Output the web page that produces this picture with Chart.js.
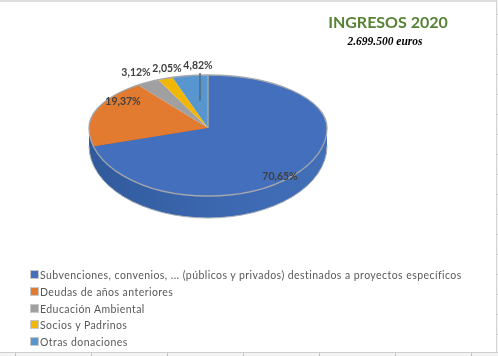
<!DOCTYPE html>
<html>
<head>
<meta charset="utf-8">
<script src="https://cdn.jsdelivr.net/npm/chart.js@4"></script>
<style>
  html, body { margin: 0; padding: 0; background: #fff; overflow: hidden; }
  #wrap { position: relative; width: 498px; height: 356px; overflow: hidden; }
  canvas { position: absolute; left: 0; top: 0; }
  #sheetTop { position: absolute; left: 0; top: 0; width: 498px; height: 2px; background: #dedede; }
  #sheetRight { position: absolute; left: 496px; top: 0; width: 2px; height: 356px;
    background: repeating-linear-gradient(#f4f4f4 0 14px, #c4c4c4 14px 15px, #f4f4f4 15px 20px); border-left: 1px solid #d4d4d4; box-sizing: border-box; }
  #sheetBottom { position: absolute; left: 0; top: 352px; width: 498px; height: 4px; border-top: 1px solid #cfcfcf; box-sizing: border-box;
    background: repeating-linear-gradient(90deg, #f4f4f4 0 15px, #c4c4c4 15px 16px, #f4f4f4 16px 76px); }
  #title { position: absolute; left: 288px; width: 200px; top: 12px; text-align: center;
    font: bold 16px Lato, sans-serif; color: #568235; }
  #sub { position: absolute; left: 285px; width: 200px; top: 35px; text-align: center;
    font: italic bold 11.5px "Liberation Serif", serif; color: #000; }
  #legend { position: absolute; left: 30px; top: 267px; font: 10.5px Lato, sans-serif; color: #595959; letter-spacing: 0.44px; }
  #legend div { height: 16.8px; line-height: 16.8px; white-space: nowrap; }
  #legend i { display: inline-block; width: 7px; height: 7px; margin-right: 1px; border: 1px solid #c8c8c8; }
</style>
</head>
<body>
<div id="wrap">
  <canvas id="c" width="498" height="356"></canvas>
  <div id="sheetTop"></div><div id="sheetRight"></div><div id="sheetBottom"></div>
  <div id="title">INGRESOS 2020</div>
  <div id="sub">2.699.500 euros</div>
  <div id="legend"></div>
</div>
<script>
const categories = [
  "Subvenciones, convenios, ... (públicos y privados) destinados a proyectos específicos",
  "Deudas de años anteriores",
  "Educación Ambiental",
  "Socios y Padrinos",
  "Otras donaciones"
];
const shares = [70.65, 19.37, 3.12, 2.05, 4.82];
const shareLabels = ["70,65%", "19,37%", "3,12%", "2,05%", "4,82%"];
const colors = ["#436FBC", "#E27A30", "#A0A0A0", "#F2B705", "#5796CF"];
const labelSpots = [[280, 177], [123, 102], [136, 73], [167, 69], [198, 66]];

// pie is tilted: back half squashed more than the front half, same apex
const backTilt = 53 / 119;
const frontTilt = 68 / 119;
const wallTilt = 72 / 119;
const depth = 18;

function squashed(ctx, x, y, tilt, fn) {
  ctx.save();
  ctx.translate(x, y);
  ctx.scale(1, tilt);
  ctx.translate(-x, -y);
  fn();
  ctx.restore();
}

const tiltedPie = {
  id: "tiltedPie",
  beforeDatasetsDraw(chart) {
    const ctx = chart.ctx;
    const arcs = chart.getDatasetMeta(0).data;
    const { x, y, outerRadius: r } = arcs[0];

    // side wall
    const grad = ctx.createLinearGradient(x - r, 0, x + r, 0);
    grad.addColorStop(0, "#315A9C");
    grad.addColorStop(0.5, "#3B67AF");
    grad.addColorStop(1, "#416FB8");
    ctx.beginPath();
    ctx.moveTo(x - r, y);
    ctx.lineTo(x - r, y + depth);
    ctx.ellipse(x, y + depth, r, r * wallTilt, 0, Math.PI, 0, true);
    ctx.lineTo(x + r, y);
    ctx.closePath();
    ctx.fillStyle = grad;
    ctx.fill();
    ctx.beginPath();
    ctx.ellipse(x, y + depth, r, r * wallTilt, 0, Math.PI, 0, true);
    ctx.strokeStyle = "#A9AEB6";
    ctx.lineWidth = 1;
    ctx.stroke();

    // top face, once per half
    [[0, y, backTilt], [y, chart.height - y, frontTilt]].forEach(([top, h, tilt]) => {
      ctx.save();
      ctx.beginPath();
      ctx.rect(0, top, chart.width, h);
      ctx.clip();
      squashed(ctx, x, y, tilt, () => arcs.forEach(a => a.draw(ctx)));
      ctx.restore();
    });

    // rim
    ctx.strokeStyle = "#A2A7AE";
    ctx.lineWidth = 1.3;
    ctx.beginPath();
    ctx.ellipse(x, y, r, r * backTilt, 0, Math.PI, 0);
    ctx.stroke();
    ctx.beginPath();
    ctx.ellipse(x, y, r, r * frontTilt, 0, 0, Math.PI);
    ctx.stroke();

    // seam at 12 o'clock
    ctx.beginPath();
    ctx.moveTo(x, y - r * backTilt);
    ctx.lineTo(x, y);
    ctx.lineWidth = 1.5;
    ctx.stroke();
    return false;
  },
  afterDraw(chart) {
    const ctx = chart.ctx;
    ctx.save();
    // leader line of the last label
    ctx.strokeStyle = "#56677A";
    ctx.lineWidth = 1.5;
    ctx.beginPath();
    ctx.moveTo(200, 73);
    ctx.lineTo(200, 101);
    ctx.stroke();

    ctx.font = "bold 10.5px Lato, sans-serif";
    ctx.fillStyle = "#404040";
    ctx.textAlign = "center";
    ctx.textBaseline = "middle";
    shareLabels.forEach((t, i) => ctx.fillText(t, labelSpots[i][0], labelSpots[i][1]));
    ctx.restore();
  }
};

new Chart(document.getElementById("c"), {
  type: "pie",
  data: {
    labels: categories,
    datasets: [{ data: shares, backgroundColor: colors, borderWidth: 0 }]
  },
  options: {
    responsive: false,
    animation: false,
    layout: { padding: { left: 89, right: 171, top: 9, bottom: 109 } },
    plugins: { legend: { display: false }, tooltip: { enabled: false } }
  },
  plugins: [tiltedPie]
});

const legend = document.getElementById("legend");
categories.forEach((name, i) => {
  const row = document.createElement("div");
  const box = document.createElement("i");
  box.style.background = colors[i];
  row.appendChild(box);
  row.appendChild(document.createTextNode(name));
  legend.appendChild(row);
});
</script>
</body>
</html>
